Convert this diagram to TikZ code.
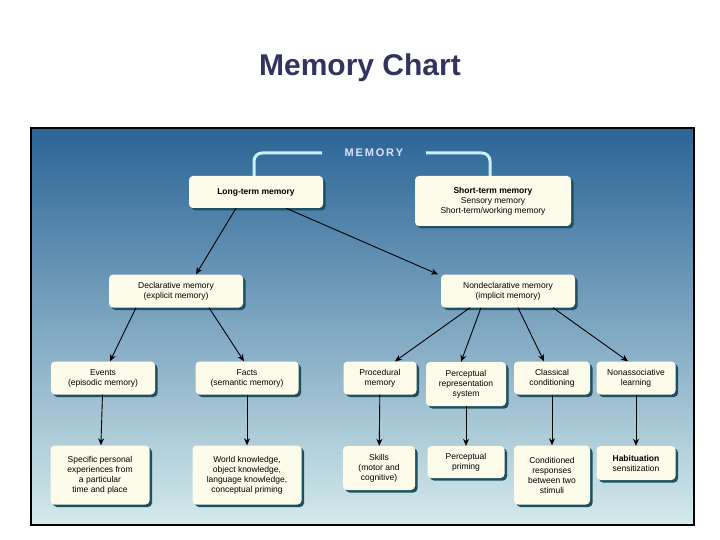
\documentclass[tikz,border=0pt]{standalone}
\usepackage{fontspec}
\setmainfont{Liberation Sans}
\usetikzlibrary{shadows,arrows.meta}
\begin{document}
\begin{tikzpicture}[x=1pt,y=-1pt,
  box/.style={draw=none,fill=boxc,rounded corners=4pt,align=center,font=\fontsize{8.5}{10}\selectfont,inner sep=2pt,
    drop shadow={shadow xshift=2.5pt,shadow yshift=-2.5pt,fill=shc,opacity=1}},
  arr/.style={-{Stealth[length=7pt,width=6pt]},line width=0.9pt,black}]
\definecolor{boxc}{HTML}{FDFBEA}
\definecolor{shc}{HTML}{1E5060}
\definecolor{topc}{HTML}{2A6496}
\definecolor{botc}{HTML}{D4EAEC}
\useasboundingbox (0,0) rectangle (720,540);
\fill[white] (0,0) rectangle (720,540);
\node[font=\bfseries\fontsize{30}{34}\selectfont,text=black!70!blue!60!gray] (title) at (360,68) {Memory Chart};
\shade[top color=topc,bottom color=botc,draw=black,line width=1.5pt] (31,128) rectangle (694,525);
\node[text=white!88!blue,font=\bfseries\fontsize{11}{12}\selectfont] (mem) at (374,153) {M\,E\,M\,O\,R\,Y};
\draw[white!80!cyan,line width=3pt,rounded corners=8pt] (254,180) -- (254,153) -- (322,153);
\draw[white!80!cyan,line width=3pt,rounded corners=8pt] (426,153) -- (490,153) -- (490,180);
\node[box,minimum width=134pt,minimum height=32pt] (lt) at (256,192) {\textbf{Long-term memory}};
\node[box,minimum width=156pt,minimum height=50pt] (st) at (493,201) {\textbf{Short-term memory}\\Sensory memory\\Short-term/working memory};
\node[box,minimum width=134pt,minimum height=33pt] (dec) at (176,291) {Declarative memory\\(explicit memory)};
\node[box,minimum width=134pt,minimum height=33pt] (nd) at (508,291) {Nondeclarative memory\\(implicit memory)};
\node[box,minimum width=104pt,minimum height=33pt] (ev) at (103,378) {Events\\(episodic memory)};
\node[box,minimum width=103pt,minimum height=33pt] (fa) at (247,378) {Facts\\(semantic memory)};
\node[box,minimum width=73pt,minimum height=33pt] (pr) at (380,378) {Procedural\\memory};
\node[box,minimum width=80pt,minimum height=44pt] (pe) at (466,384) {Perceptual\\representation\\system};
\node[box,minimum width=76pt,minimum height=33pt] (cl) at (552,378) {Classical\\conditioning};
\node[box,minimum width=79pt,minimum height=33pt] (na) at (636,378) {Nonassociative\\learning};
\node[box,minimum width=99pt,minimum height=59pt] (sp) at (100,475) {Specific personal\\experiences from\\a particular\\time and place};
\node[box,minimum width=109pt,minimum height=59pt] (wk) at (247,475) {World knowledge,\\object knowledge,\\language knowledge,\\conceptual priming};
\node[box,minimum width=72pt,minimum height=44pt] (sk) at (379,468) {Skills\\(motor and\\cognitive)};
\node[box,minimum width=77pt,minimum height=32pt] (pp) at (466,462) {Perceptual\\priming};
\node[box,minimum width=76pt,minimum height=59pt] (co) at (552,475) {Conditioned\\responses\\between two\\stimuli};
\node[box,minimum width=79pt,minimum height=34pt] (ha) at (636,463) {\textbf{Habituation}\\sensitization};
\draw[arr] ([xshift=-20pt]lt.south) -- ([xshift=20pt]dec.north);
\draw[arr] ([xshift=30pt]lt.south) -- ([xshift=-70pt]nd.north);
\draw[arr] ([xshift=-40pt]dec.south) -- ([xshift=7pt]ev.north);
\draw[arr] ([xshift=33pt]dec.south) -- ([xshift=-3pt]fa.north);
\draw[arr] ([xshift=-38pt]nd.south) -- ([xshift=15pt]pr.north);
\draw[arr] ([xshift=-27pt]nd.south) -- ([xshift=-5pt]pe.north);
\draw[arr] ([xshift=10pt]nd.south) -- ([xshift=-8pt]cl.north);
\draw[arr] ([xshift=45pt]nd.south) -- ([xshift=-8pt]na.north);
\draw[arr] (ev) -- (sp);
\draw[arr] (fa) -- (wk);
\draw[arr] (pr) -- (sk);
\draw[arr] (pe) -- (pp);
\draw[arr] (cl) -- (co);
\draw[arr] (na) -- (ha);
\end{tikzpicture}
\end{document}
